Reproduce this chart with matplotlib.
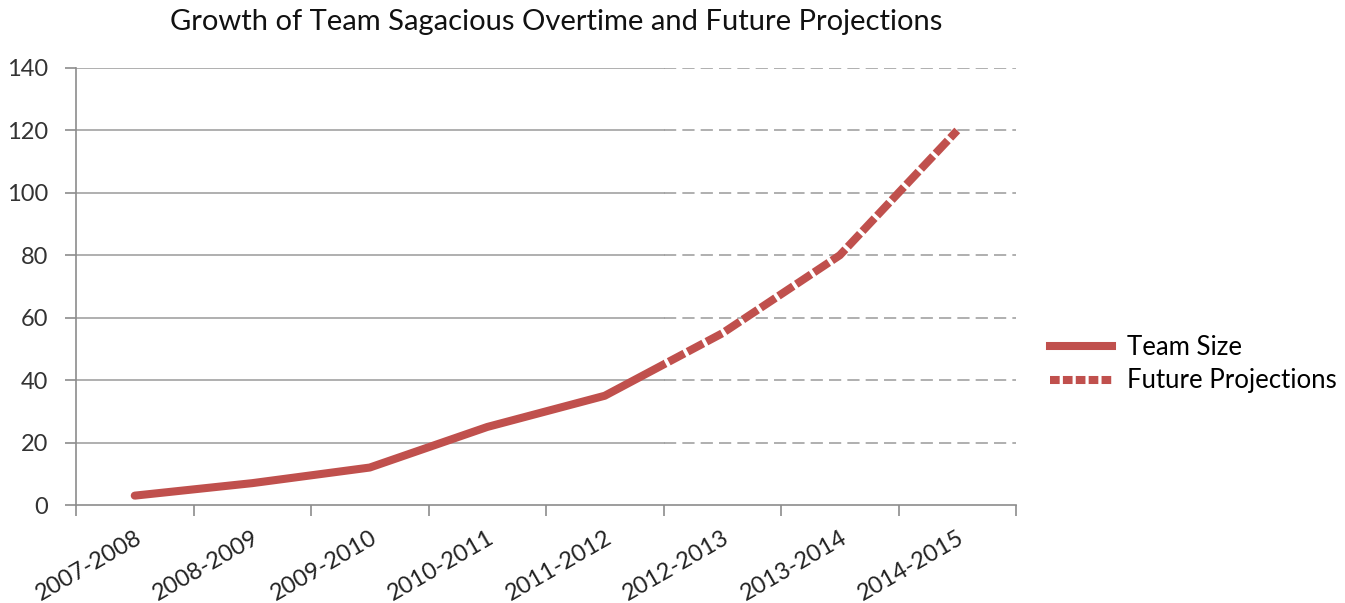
import matplotlib.pyplot as plt
from matplotlib.patches import Rectangle
from matplotlib.lines import Line2D

plt.rcParams['font.family'] = ['Lato', 'DejaVu Sans']

# data
years = ['2007-2008', '2008-2009', '2009-2010', '2010-2011',
         '2011-2012', '2012-2013', '2013-2014', '2014-2015']
team_size = [3, 7, 12, 25, 35, 55, 80, 120]
y_ticks = [0, 20, 40, 60, 80, 100, 120, 140]
split_at = 4.5  # boundary between actual and projected

red = '#C0504D'
grid_col = '#9a9a9a'
axis_col = '#8c8c8c'

fig = plt.figure(figsize=(13.45, 6.03), dpi=100)
ax = fig.add_axes([76 / 1345, 1 - 505 / 603, (1016 - 76) / 1345, (505 - 68) / 603])

x = list(range(len(years)))
ax.set_xlim(-0.5, len(years) - 0.5)
ax.set_ylim(0, 140)

# gridlines: solid for past, dashed for future
for yv in y_ticks[1:]:
    ax.plot([-0.5, split_at], [yv, yv], color=grid_col, lw=1.1, zorder=1)
    ax.plot([split_at, len(years) - 0.5], [yv, yv], color=grid_col, lw=1.1,
            dashes=(8, 4), zorder=1)

# the line, split into solid and dashed parts by clipping
solid, = ax.plot(x, team_size, color=red, lw=5.8, solid_capstyle='round',
                 solid_joinstyle='round', zorder=3)
solid.set_clip_path(Rectangle((-0.5, 0), split_at + 0.5, 140, transform=ax.transData))
dashed, = ax.plot(x, team_size, color=red, lw=5.8, dashes=(2.2, 0.45),
                  dash_capstyle='butt', zorder=3)
dashed.set_clip_path(Rectangle((split_at, -5), len(years), 160, transform=ax.transData))

for s in ['top', 'right']:
    ax.spines[s].set_visible(False)
for s in ['left', 'bottom']:
    ax.spines[s].set_color(axis_col)
    ax.spines[s].set_linewidth(1.2)

ax.set_yticks(y_ticks)
ax.set_xticks([i - 0.5 for i in range(len(years) + 1)])
ax.set_xticklabels([])
ax.set_xticks(x, minor=True)
ax.set_xticklabels(years, minor=True, rotation=30, ha='right',
                   rotation_mode='anchor', fontsize=17, color='#222222')
ax.tick_params(axis='x', which='minor', length=0, pad=16)
ax.tick_params(axis='x', which='major', length=8, color=axis_col, width=1.2)
ax.tick_params(axis='y', length=8, color=axis_col, width=1.2, labelsize=17,
               labelcolor='#333333', pad=12)

fig.text(556 / 1345, 1 - 22 / 603,
         'Growth of Team Sagacious Overtime and Future Projections',
         fontsize=21, color='#111111', ha='center', va='center')

handles = [Line2D([], [], color=red, lw=5.8),
           Line2D([], [], color=red, lw=5.8, dashes=(1.2, 0.4))]
fig.legend(handles, ['Team Size', 'Future Projections'], loc='center left',
           bbox_to_anchor=(1050 / 1345, 1 - 364 / 603), frameon=False,
           fontsize=18.5, handlelength=2.4, handletextpad=0.6,
           borderaxespad=0, borderpad=0, labelspacing=0.35)

fig.savefig('out.png', dpi=100)
